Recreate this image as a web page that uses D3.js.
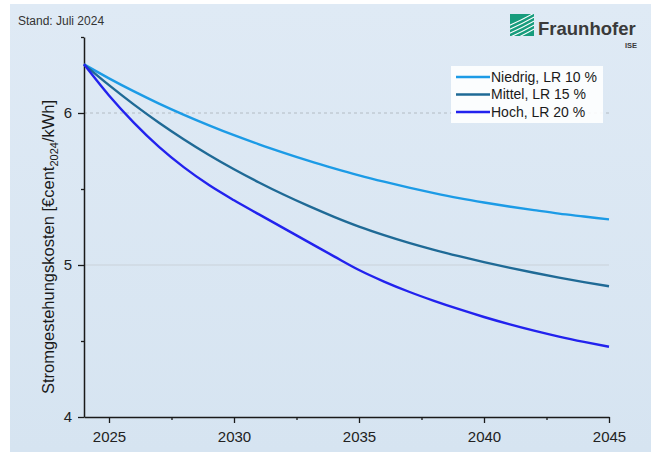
<!DOCTYPE html>
<html><head><meta charset="utf-8">
<script src="https://cdn.jsdelivr.net/npm/d3@7"></script>
<style>html,body{margin:0;padding:0;background:#fff;}svg{display:block;font-family:"Liberation Sans",Arial,sans-serif;}</style>
</head><body>
<svg id="c" width="651" height="452"></svg>
<script>
const years = d3.range(2024, 2046);
const niedrig = [6.320,6.228,6.142,6.062,5.988,5.919,5.854,5.794,5.738,5.685,5.636,5.590,5.548,5.509,5.473,5.440,5.411,5.385,5.361,5.338,5.319,5.300];
const mittel  = [6.320,6.183,6.055,5.936,5.826,5.724,5.630,5.543,5.462,5.387,5.317,5.253,5.197,5.146,5.100,5.058,5.019,4.983,4.949,4.917,4.887,4.860];
const hoch    = [6.320,6.115,5.935,5.777,5.642,5.526,5.426,5.333,5.241,5.149,5.057,4.967,4.891,4.824,4.764,4.709,4.658,4.611,4.568,4.529,4.494,4.462];
const seriesNames = ["Niedrig, LR 10 %","Mittel, LR 15 %","Hoch, LR 20 %"];
const seriesColors = ["#1c9be6","#1f6a96","#2222ee"];
const xTicks = [2025,2030,2035,2040,2045];
const xMinor = [2027.5,2032.5,2037.5,2042.5];
const yTicks = [4,5,6];
const yMinor = [4.5,5.5,6.5];

const svg = d3.select("#c");
const defs = svg.append("defs");
const grad = defs.append("linearGradient").attr("id","bg").attr("x1",0).attr("y1",0).attr("x2",0).attr("y2",1);
grad.append("stop").attr("offset","0%").attr("stop-color","#dfeaf5");
grad.append("stop").attr("offset","100%").attr("stop-color","#d6e4f1");
svg.append("rect").attr("x",10).attr("y",4).attr("width",641).attr("height",448).attr("fill","url(#bg)");

const x = d3.scaleLinear().domain([2024,2045]).range([84,609]);
const y = d3.scaleLinear().domain([4,6.5]).range([417,37]);

// gridlines
svg.append("line").attr("x1",x(2024)).attr("x2",x(2045)).attr("y1",y(6)).attr("y2",y(6))
  .attr("stroke","#a9b0b8").attr("stroke-width",0.8).attr("stroke-dasharray","3,3");
svg.append("line").attr("x1",x(2024)).attr("x2",x(2045)).attr("y1",y(5)).attr("y2",y(5))
  .attr("stroke","#c9d1da").attr("stroke-width",1.2);

// axes
const axColor = "#1a1a1a";
const gx = svg.append("g").attr("transform",`translate(0,${y(4)})`)
  .call(d3.axisBottom(x).tickValues(xTicks).tickFormat(d3.format("d")).tickSize(6).tickSizeOuter(0));
const gxm = svg.append("g").attr("transform",`translate(0,${y(4)})`)
  .call(d3.axisBottom(x).tickValues(xMinor).tickFormat("").tickSize(3).tickSizeOuter(0));
gxm.select(".domain").remove();
const gy = svg.append("g").attr("transform",`translate(${x(2024)},0)`)
  .call(d3.axisLeft(y).tickValues(yTicks).tickFormat(d3.format("d")).tickSize(6).tickSizeOuter(0));
const gym = svg.append("g").attr("transform",`translate(${x(2024)},0)`)
  .call(d3.axisLeft(y).tickValues(yMinor).tickFormat("").tickSize(3).tickSizeOuter(0));
gym.select(".domain").remove();
svg.selectAll(".domain").attr("stroke",axColor).attr("stroke-width",1.5);
svg.selectAll(".tick line").attr("stroke",axColor).attr("stroke-width",1.3);
gx.selectAll(".tick text").attr("font-size",15).attr("fill","#222").attr("font-family","Liberation Sans, Arial, sans-serif").attr("dy","1.05em");
gy.selectAll(".tick text").attr("font-size",15).attr("fill","#222").attr("font-family","Liberation Sans, Arial, sans-serif").attr("dx","-0.2em");

// lines
const line = d3.line().x((d,i)=>x(years[i])).y(d=>y(d)).curve(d3.curveMonotoneX);
[niedrig, mittel, hoch].forEach((s,k)=>{
  svg.append("path").attr("d",line(s)).attr("fill","none").attr("stroke",seriesColors[k]).attr("stroke-width",2.4);
});

// y label
const yl = svg.append("text").attr("transform","translate(54,247) rotate(-90)")
  .attr("text-anchor","middle").attr("font-size",16.5).attr("fill","#1a1a1a");
yl.append("tspan").text("Stromgestehungskosten [€cent");
yl.append("tspan").text("2024").attr("font-size",11).attr("dy",4);
yl.append("tspan").text("/kWh]").attr("dy",-4);

// Stand
svg.append("text").attr("x",18).attr("y",25).attr("font-size",12).attr("fill","#333").text("Stand: Juli 2024");

// legend
const lg = svg.append("g");
lg.append("rect").attr("x",451).attr("y",66).attr("width",152).attr("height",57).attr("fill","#ffffff").attr("fill-opacity",0.88);
seriesNames.forEach((n,i)=>{
  const yy = 77 + i*17.5;
  lg.append("line").attr("x1",456).attr("x2",490).attr("y1",yy).attr("y2",yy).attr("stroke",seriesColors[i]).attr("stroke-width",2.4);
  lg.append("text").attr("x",491).attr("y",yy).attr("dy","0.35em").attr("font-size",14).attr("fill","#1a1a1a").text(n);
});

// Fraunhofer logo
const lo = svg.append("g");
lo.append("rect").attr("x",510).attr("y",14).attr("width",24).attr("height",22).attr("fill","#179c7d");
const cp = defs.append("clipPath").attr("id","lc");
cp.append("rect").attr("x",510).attr("y",14).attr("width",24).attr("height",22);
const stripes = lo.append("g").attr("clip-path","url(#lc)");
[0,1,2,3,4].forEach(i=>{
  stripes.append("path").attr("d",`M${508} ${26+i*4} Q ${522} ${20+i*4} ${536} ${12+i*4}`)
    .attr("stroke","#fff").attr("stroke-width",1.1).attr("fill","none");
});
svg.append("text").attr("x",538).attr("y",35).attr("font-size",18.5).attr("font-weight","bold").attr("fill","#3a3a3a").text("Fraunhofer");
svg.append("text").attr("x",637).attr("y",48).attr("text-anchor","end").attr("font-size",7.5).attr("font-weight","bold").attr("fill","#3a3a3a").text("ISE");
</script>
</body></html>
